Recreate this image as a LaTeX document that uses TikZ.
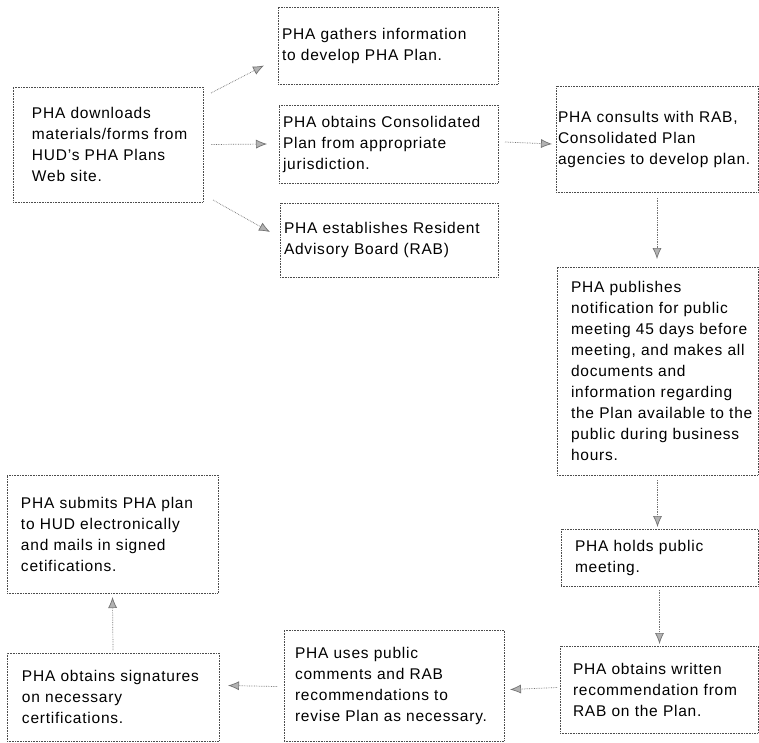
\documentclass[tikz,border=0pt]{standalone}
\usepackage{fontspec}
\setmainfont{Liberation Sans}[LetterSpace=5]
\usetikzlibrary{arrows.meta}

\begin{document}
\begin{tikzpicture}[x=1pt,y=-1pt,
  stage/.style={draw=black!70, densely dotted, line width=0.6pt, anchor=north west,
    outer sep=0pt, inner xsep=2pt, inner ysep=2pt, align=left,
    font=\fontsize{15.5}{21}\selectfont},
  lpad/.style={execute at begin node={\leftskip=#1}},
  arr/.style={draw=black!55, densely dotted, line width=0.7pt,
    -{Latex[length=11pt,width=9pt,fill=black!30]}}]
\useasboundingbox[fill=white] (0,0) rectangle (759,742);

% first column
\node[stage, text width=186pt, lpad=17pt, minimum height=115pt] (dl) at (13,87)
  {PHA downloads\\materials/forms from\\HUD's PHA Plans\\Web site.};

% three first steps
\node[stage, text width=216pt, lpad=2pt, minimum height=77pt] (gather) at (278,7)
  {PHA gathers information\\to develop PHA Plan.};
\node[stage, text width=215pt, lpad=2pt, minimum height=78pt] (consol) at (279,105)
  {PHA obtains Consolidated\\Plan from appropriate\\jurisdiction.};
\node[stage, text width=214pt, lpad=2pt, minimum height=74pt] (rab) at (280,203)
  {PHA establishes Resident\\Advisory Board (RAB)};

% right column
\node[stage, text width=198pt, lpad=0pt, minimum height=106pt] (consult) at (556,86)
  {PHA consults with RAB,\\Consolidated Plan\\agencies to develop plan.};
\node[stage, text width=197pt, lpad=12pt, minimum height=208pt] (publish) at (557,267)
  {PHA publishes\\notification for public\\meeting 45 days before\\meeting, and makes all\\documents and\\information regarding\\the Plan available to the\\public during business\\hours.};
\node[stage, text width=193pt, lpad=12pt, minimum height=57pt] (meet) at (561,529)
  {PHA holds public\\meeting.};
\node[stage, text width=194pt, lpad=11pt, minimum height=87pt] (recomm) at (560,646)
  {PHA obtains written\\recommendation from\\RAB on the Plan.};

% bottom row and left column
\node[stage, text width=216pt, lpad=9pt, minimum height=111pt] (revise) at (284,630)
  {PHA uses public\\comments and RAB\\recommendations to\\revise Plan as necessary.};
\node[stage, text width=208pt, lpad=13pt, minimum height=88pt] (sign) at (7,653)
  {PHA obtains signatures\\on necessary\\certifications.};
\node[stage, text width=207pt, lpad=12pt, minimum height=118pt] (submit) at (7,475)
  {PHA submits PHA plan\\to HUD electronically\\and mails in signed\\cetifications.};

% arrows
\draw[arr] ([shift={(8,6)}]dl.north east) -- ([shift={(-14,20)}]gather.west);
\draw[arr] ([xshift=8pt]dl.east) -- ([xshift=-12pt]consol.west);
\draw[arr] ([shift={(10,-2)}]dl.south east) -- ([shift={(-10,-8)}]rab.west);
\draw[arr] ([shift={(7,-2)}]consol.east) -- ([xshift=-4pt]consult.west |- consol.east);
\draw[arr] ([shift={(0,6)}]consult.south) -- ([shift={(0,-8)}]consult.south |- publish.north);
\draw[arr] ([shift={(0,5)}]publish.south) -- ([shift={(0,-2)}]publish.south |- meet.north);
\draw[arr] ([shift={(0,4)}]meet.south) -- ([shift={(0,-2)}]meet.south |- recomm.north);
\draw[arr] ([shift={(-3,-2)}]recomm.west) -- ([xshift=6pt]revise.east |- recomm.west);
\draw[arr] ([shift={(-7,1)}]revise.west) -- ([xshift=9pt]sign.east |- revise.west);
\draw[arr] ([shift={(0,-3)}]sign.north) -- ([shift={(0,4)}]submit.south);
\end{tikzpicture}
\end{document}
